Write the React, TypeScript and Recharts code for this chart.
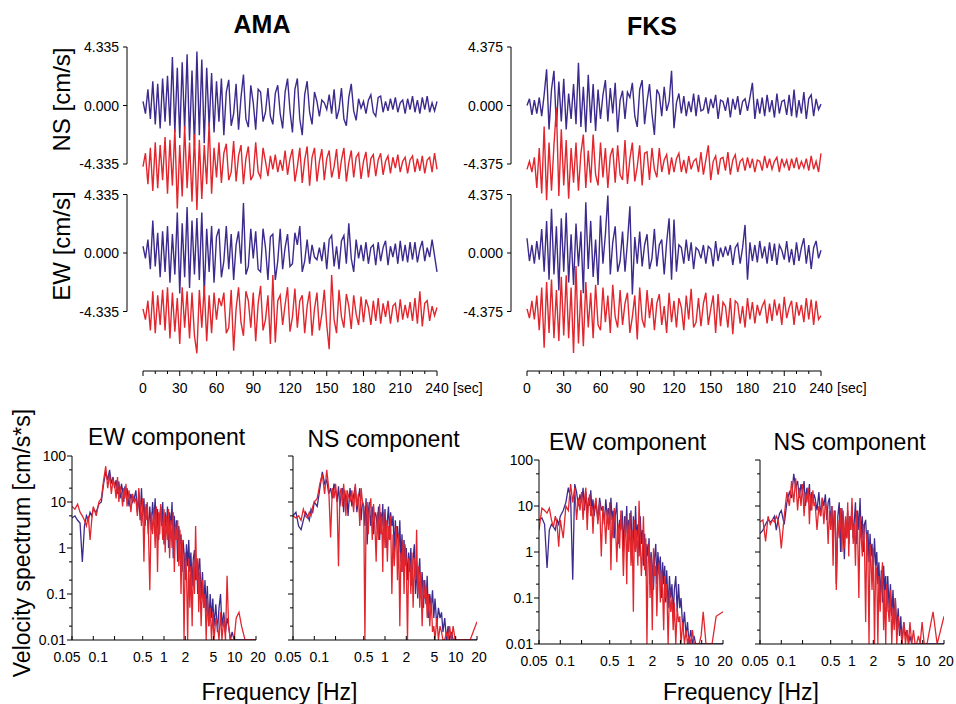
import React from 'react'
import { LineChart, Line, XAxis, YAxis, ReferenceLine } from 'recharts'

const FONT = '"Liberation Sans", Arial, Helvetica, sans-serif'
const BLUE = '#3d2a8d'
const RED = '#e2262e'

// ---- waveforms (cm/s), sampled every 2 s from 0 to 240 s ----
const TIME_STEP = 2
const TIME_TICKS = [0, 10, 20, 30, 40, 50, 60, 70, 80, 90, 100, 110, 120, 130, 140, 150, 160, 170, 180, 190, 200, 210, 220, 230, 240]

const AMA_AMP = 4.335
const FKS_AMP = 4.375

const amaNsBlue = [
  0.3, -0.6, 1.2, -1.0, 1.8, -1.4, 1.6, -1.7, 2.0, -1.2,
  2.2, -1.5, 3.6, -2.0, 2.8, -2.4, 3.2, -1.8, 3.8, -2.6,
  2.6, -3.0, 4.0, -2.2, 3.4, -2.8, 2.8, -1.6, 2.4, -2.0,
  1.8, -1.2, 2.0, -2.2, 1.0, 1.9, -1.5, -0.6, 1.6, -1.8,
  0.6, 2.3, -1.0, -1.6, 1.5, 0.2, -1.8, 1.2, 1.0, -1.2,
  -0.5, 1.3, -0.8, -1.4, 0.9, 1.5, -0.6, -1.7, 1.0, 2.0,
  -0.4, -2.0, 1.2, 2.0, -1.0, -2.2, 0.8, 1.8, -0.5, -1.4,
  1.0, 0.3, -0.8, 0.4, 0.2, -0.3, 0.8, -0.6, 1.2, -1.0,
  -0.3, 1.3, -1.0, -1.5, 0.6, 1.6, -0.4, -1.1, 0.5, -0.2,
  0.3, -0.6, 0.4, 0.8, -0.5, -0.8, 0.6, 0.7, -0.5, 0.3,
  -0.4, 0.5, -0.3, 0.6, -0.5, 0.2, 0.4, -0.6, 0.5, -0.3,
  0.7, -0.5, 0.4, -0.6, 0.6, -0.3, 0.7, -0.5, 0.2, -0.4, 0.3,
]
const amaNsRed = [
  -0.2, 0.8, -1.5, 1.2, -2.0, 1.6, -1.8, 1.4, -1.2, 2.0,
  -2.2, 1.8, -1.6, 2.6, -3.3, 1.4, -2.4, 2.8, -1.8, 1.6,
  -2.8, 2.2, -3.4, 1.8, -2.6, 1.4, -1.5, 3.1, -2.2, 1.2,
  -1.0, 1.6, -1.4, 0.8, 1.5, -1.2, -0.6, 1.7, -1.3, 0.6,
  1.4, -1.5, 0.4, 1.3, -1.2, -0.8, 1.6, -0.6, -1.0, 1.2,
  0.2, -0.9, 0.6, -0.4, 0.7, -0.6, 0.3, -0.5, 1.0, -0.8,
  0.4, 1.1, -1.3, -0.2, 1.2, -1.4, 0.3, 1.3, -1.6, 0.5,
  1.2, -1.3, 0.2, 1.1, -1.2, 0.4, 1.0, -1.0, -0.2, 1.1,
  -1.1, 0.3, 1.2, -1.3, 0.1, 1.0, -1.0, 0.5, 0.8, -1.1,
  0.2, 0.9, -1.0, 0.4, 0.7, -0.9, 0.3, 0.8, -0.8, 0.2,
  0.6, -0.7, 0.5, -0.3, 0.7, -0.6, 0.2, 0.5, -0.7, 0.3,
  0.6, -0.6, 0.4, -0.5, 0.6, -0.7, 0.3, 0.5, -0.6, 0.8, -0.4,
]
const amaEwBlue = [
  0.5, -0.4, 1.0, -1.2, 2.4, -1.0, 1.5, -1.8, 1.6, -1.4,
  2.0, -2.2, 1.4, -1.6, 3.0, -3.0, 2.2, -1.8, 3.4, -2.6,
  2.4, -1.6, 2.6, -2.0, 3.0, -3.1, 1.8, -1.4, 2.0, -2.2,
  1.2, 1.8, -1.8, -0.6, 2.0, -1.2, 1.4, -2.0, 0.6, 1.6,
  -0.8, 3.7, -1.6, -1.0, 1.8, -0.4, 1.6, -1.2, -1.4, 1.8,
  0.4, -2.0, 1.2, 1.4, -2.0, -0.6, 1.8, -1.2, 0.4, 1.4,
  -1.0, -0.8, 1.5, 0.6, 2.0, -1.4, -0.6, 1.0, -0.8, 0.6,
  -0.3, -0.5, 0.4, -0.6, 0.8, -1.2, 1.0, 1.3, -1.0, 0.5,
  -1.2, 0.9, 1.3, -0.8, 2.2, -0.4, -1.4, 1.0, -0.4, 0.6,
  -0.6, 0.8, -0.8, 0.4, 0.6, -0.9, 0.8, -0.6, 0.4, 0.9,
  -0.9, 0.5, -0.3, 0.7, -0.8, 0.9, -0.6, 0.6, -0.7, 0.8,
  -0.5, 0.8, -0.7, 0.3, 0.9, -0.6, 0.4, -0.3, 1.0, -0.2, -1.4,
]
const amaEwRed = [
  0.2, -0.6, 0.8, -1.4, 1.5, -1.6, 1.2, -1.0, 1.6, -1.4,
  1.8, -2.0, 1.4, -1.5, 1.0, -2.4, 1.8, -1.2, 1.5, -2.0,
  1.4, -1.8, -3.1, 1.6, -1.2, 1.9, -2.2, 1.2, -1.6, 1.4,
  -0.6, 1.0, 0.4, 1.4, -1.6, -1.2, 1.6, -2.9, 0.2, 1.8,
  -0.8, -1.8, 1.5, 0.8, -1.2, 1.4, -2.2, 0.6, 1.9, -1.4,
  -0.6, 1.2, -2.4, 2.7, -2.3, 0.8, 1.2, -1.0, 0.5, 1.8,
  -1.5, -0.4, 1.7, -1.2, 0.8, 1.2, -1.6, 0.4, 1.5, -1.8,
  0.2, 1.4, -1.4, -0.2, 1.6, -1.0, -2.8, 2.7, -0.6, -1.6,
  1.6, -0.4, -1.2, 1.3, 0.4, -1.3, 1.2, -0.2, -1.0, 1.1,
  -0.8, 0.9, 0.3, -1.0, 0.8, -0.7, 1.0, -0.9, 0.6, -0.4,
  0.8, -0.9, 0.4, 0.6, -0.8, 0.9, -0.6, 0.5, -0.5, 0.7,
  -0.7, 1.0, -0.9, 1.5, -1.1, 0.6, 0.8, -0.7, 0.4, -0.3, 0.3,
]
const fksNsBlue = [
  0.0, 0.5, -0.7, 0.4, -0.6, 0.6, -0.8, 0.8, 2.7, -1.8,
  1.2, 2.6, -1.6, 1.8, -1.2, 2.0, -1.8, 0.9, -1.0, 1.6,
  -1.4, 3.2, -1.6, 1.4, -2.0, 2.3, -1.3, 1.6, -1.9, 1.2,
  -1.0, 0.8, 1.9, -1.2, 1.3, -0.6, 1.7, -2.0, 0.4, 1.1,
  -1.0, 1.0, 0.6, 1.7, -0.8, -1.6, 1.2, 1.9, -1.4, 0.3,
  1.6, -0.6, -2.2, 1.2, 0.8, -0.8, 1.4, -0.4, 0.3, 2.6,
  -1.7, 0.2, 0.9, -0.6, 0.7, -0.8, 0.3, -0.5, 0.9, -0.8,
  0.8, -0.4, -0.3, 0.6, -0.6, 0.5, -0.2, 0.8, -1.0, 0.4,
  0.3, -0.4, 0.6, -0.9, 0.5, -0.3, 0.7, -0.7, 0.3, 0.5,
  -0.4, 0.6, 1.7, -1.0, 0.5, -0.6, 0.6, -0.8, 0.8, -0.5,
  0.4, -0.9, 0.9, -0.6, 0.3, 0.4, -0.7, 0.8, -0.8, 1.2,
  -0.9, 0.4, -0.6, 1.0, -1.0, 0.5, 0.8, -0.8, 0.5, -0.3, 0.1,
]
const fksNsRed = [
  -0.4, 0.2, -0.6, 0.5, -1.8, 1.2, -2.2, 2.8, -2.7, 1.6,
  -2.0, 1.4, 4.2, -2.4, 2.6, -1.6, 1.8, -2.6, 1.2, -1.4,
  1.6, -2.0, 0.8, 2.2, -1.8, 1.0, -1.4, 2.2, -0.8, -1.6,
  1.6, -1.0, 1.2, -1.8, 0.6, 1.2, -1.4, 1.4, -0.8, -1.2,
  1.8, -1.5, 0.4, 1.6, -1.3, -0.2, 1.4, -1.6, 0.8, 0.9,
  -1.2, 1.2, -0.4, -1.0, 1.2, -0.6, 0.3, 0.7, -0.8, 0.5,
  -0.6, 0.4, 0.8, -0.6, 0.3, -0.7, 0.6, -0.4, 0.2, 0.4,
  -0.6, 0.9, -0.8, 0.3, 1.4, -1.2, 0.2, 0.6, -0.8, 0.4,
  0.5, -0.5, 0.9, -0.8, 0.3, 0.7, -0.6, 0.2, 0.4, -0.5,
  0.5, -0.3, 0.4, -0.6, 0.3, 0.2, -0.5, 0.6, -0.3, 0.4,
  -0.4, 0.2, 0.5, -0.6, 0.4, -0.2, 0.3, -0.5, 0.4, -0.3,
  0.5, -0.4, 0.2, -0.3, 0.4, -0.5, 0.6, -0.4, 0.2, -0.6, 0.8,
]
const fksEwBlue = [
  1.1, -0.6, 0.6, -0.8, 0.9, -0.5, 1.8, -1.4, 2.4, -2.0,
  3.3, -1.6, 2.0, -2.8, 2.6, -1.4, 3.0, -2.2, 1.4, -2.4,
  2.2, -1.0, 1.6, -3.0, 3.8, -1.2, 2.4, -1.8, 1.0, -2.4,
  2.8, -0.8, 1.4, 4.3, -1.6, 0.8, 2.0, -1.4, -0.6, 1.6,
  -1.4, 0.8, 3.5, -3.1, 1.2, -0.8, 1.6, -1.0, 0.6, 1.4,
  -1.2, -0.4, 1.8, -1.0, 0.6, 1.0, -1.6, 0.8, 2.6, -2.0,
  2.5, -1.4, 0.6, 0.4, -0.8, 1.0, -0.6, 0.8, -1.2, 0.4,
  0.2, -0.4, 0.6, -0.8, 0.5, 0.3, -1.0, 0.9, -0.6, 0.4,
  -0.3, 0.5, -0.2, 0.6, -0.9, 0.4, 0.7, -0.8, 0.4, 2.1,
  -2.0, 0.8, -0.6, 0.6, -0.7, 0.9, -0.4, 0.5, -0.8, 0.8,
  -0.6, 0.7, -0.9, 0.6, 0.2, -0.5, 0.9, -0.7, 0.3, -0.9,
  0.8, -0.6, 0.4, 1.1, -0.8, 0.6, -1.2, 0.4, 0.9, -0.4, 0.2,
]
const fksEwRed = [
  0.2, -0.5, 0.8, -0.6, 1.2, -1.4, 1.8, -2.7, 2.2, -1.6,
  2.4, -2.0, 1.6, -2.2, 2.6, -1.8, 2.7, -2.0, 1.8, -3.1,
  3.4, -2.4, 1.6, -2.6, 2.2, -1.2, 1.4, -2.0, 2.0, -1.0,
  -1.4, 1.8, -0.8, 1.2, -1.6, 2.0, -0.4, -1.2, 1.6, -1.0,
  0.6, 1.4, -1.6, -0.4, 1.2, -2.1, 1.8, -0.6, -1.2, 1.6,
  -0.5, 1.0, -1.4, 0.6, 1.3, -1.0, 0.4, -1.6, 1.4, -0.8,
  0.8, -1.2, 1.0, 0.3, -1.4, 1.2, -0.6, 1.7, -1.2, -0.8,
  1.0, -1.1, 0.6, 1.4, -1.0, 0.2, 1.2, -1.6, 1.3, -1.1,
  0.7, 0.4, -1.2, 1.0, -1.7, 0.8, 0.6, -0.9, 0.4, -1.2,
  1.0, -0.6, 0.7, -0.9, 0.5, -0.3, 0.4, 0.8, -0.9, 0.6,
  -0.7, 0.9, -0.3, 0.6, -1.0, 1.1, -0.5, 0.3, 0.8, -1.0,
  0.7, -0.3, 0.5, -0.8, 1.0, -0.6, 0.9, -1.0, 0.8, -0.6, -0.3,
]

// ---- velocity spectra (cm/s*s) ----
const specFreq = [
  0.05, 0.055, 0.06, 0.065, 0.07, 0.075, 0.08, 0.085, 0.09, 0.095,
  0.1, 0.11, 0.12, 0.13, 0.14, 0.15, 0.16, 0.17, 0.18, 0.19,
  0.2, 0.21, 0.22, 0.23, 0.24, 0.25, 0.26, 0.27, 0.28, 0.29,
  0.3, 0.32, 0.34, 0.36, 0.38, 0.4, 0.42, 0.44, 0.46, 0.48,
  0.5, 0.52, 0.54, 0.56, 0.58, 0.6, 0.63, 0.66, 0.69, 0.72,
  0.75, 0.78, 0.81, 0.84, 0.87, 0.9, 0.93, 0.96, 1.0, 1.04,
  1.08, 1.12, 1.16, 1.2, 1.25, 1.3, 1.35, 1.4, 1.45, 1.5,
  1.56, 1.62, 1.68, 1.74, 1.8, 1.86, 1.92, 2.0, 2.08, 2.16,
  2.24, 2.32, 2.4, 2.5, 2.6, 2.7, 2.8, 2.9, 3.0, 3.1,
  3.2, 3.35, 3.5, 3.65, 3.8, 3.95, 4.1, 4.3, 4.5, 4.7,
  4.9, 5.1, 5.4, 5.7, 6.0, 6.3, 6.6, 7.0, 7.4, 7.8,
  8.2, 8.7, 9.2, 9.8, 10.5, 11.5, 12.5, 14, 16, 20,
]
const amaEwSpecBlue = [
  4.5, 5, 4, 3.5, 0.5, 3, 5, 4, 6, 5,
  7, 6, 9, 10, 25, 45, 30, 50, 25, 35,
  20, 30, 15, 28, 12, 25, 18, 10, 22, 14,
  20, 8, 15, 10, 12, 18, 6, 14, 4, 20,
  5, 12, 3, 9, 6, 2, 8, 2.5, 10, 4,
  12, 2, 7, 1.5, 5, 8, 3, 10, 1.2, 6,
  2.5, 8, 1, 6, 3, 10, 0.6, 5, 1.5, 4,
  0.5, 3, 1.2, 2, 0.3, 1.5, 0.8, 0.2, 1.2, 0.4,
  1.5, 0.3, 0.8, 0.15, 0.6, 0.9, 0.2, 0.5, 0.1, 0.4,
  0.6, 0.08, 0.3, 0.05, 0.2, 0.04, 0.15, 0.02, 0.1, 0.03,
  0.08, 0.02, 0.06, 0.015, 0.05, 0.1, 0.02, 0.04, 0.015, 0.03,
  0.02, 0.01, 0.015, 0.01, 0.01, 0.01, 0.01, 0.01, 0.01, 0.01,
]
const amaEwSpecRed = [
  8, 7, 9, 6, 5, 4, 3, 5, 1.5, 4,
  8, 5, 10, 12, 30, 60, 20, 40, 15, 30,
  25, 12, 35, 10, 22, 15, 8, 20, 12, 25,
  8, 18, 6, 15, 10, 12, 5, 20, 9, 3,
  12, 0.5, 8, 4, 10, 3, 0.12, 6, 2, 7,
  1, 8, 0.3, 6, 2, 9, 4, 1.5, 7, 0.8,
  5, 1.5, 7, 0.6, 4, 1, 6, 0.3, 3, 1.5,
  4, 0.4, 2.5, 0.1, 1.5, 0.6, 0.01, 0.8, 0.3, 0.01,
  0.6, 0.05, 0.4, 0.02, 0.5, 0.1, 3, 0.2, 0.6, 0.04,
  0.3, 0.02, 0.2, 0.05, 0.1, 0.01, 0.08, 0.02, 0.05, 0.01,
  0.04, 0.01, 0.03, 0.02, 0.01, 0.04, 0.01, 0.03, 0.01, 0.25,
  0.02, 0.01, 0.01, 0.01, 0.03, 0.04, 0.02, 0.01, 0.01, 0.01,
]
const amaNsSpecBlue = [
  5, 6, 3, 2.5, 4, 6, 5, 4, 7, 6,
  10, 8, 20, 45, 25, 30, 15, 20, 12, 25,
  18, 10, 22, 8, 15, 20, 6, 18, 10, 14,
  5, 20, 8, 14, 22, 6, 12, 20, 4, 10,
  8, 3, 12, 1.2, 6, 10, 3, 8, 2, 6,
  5, 2.5, 8, 1.5, 6, 3, 9, 2, 7, 1,
  4, 8, 2, 6, 3, 5, 0.8, 4, 1.5, 3,
  0.8, 4, 0.5, 2, 0.3, 1.5, 0.4, 1, 0.2, 0.8,
  0.3, 1, 0.15, 0.6, 1.2, 0.1, 0.5, 0.08, 0.3, 0.6,
  0.1, 0.3, 0.05, 0.2, 0.06, 0.25, 0.03, 0.1, 0.05, 0.12,
  0.03, 0.08, 0.02, 0.05, 0.03, 0.04, 0.015, 0.03, 0.01, 0.02,
  0.01, 0.015, 0.01, 0.01, 0.01, 0.01, 0.01, 0.01, 0.01, 0.01,
]
const amaNsSpecRed = [
  5, 4.5, 5, 4, 7, 5, 4.5, 6, 5, 8,
  10, 12, 25, 40, 15, 50, 20, 1.7, 20, 12,
  25, 10, 0.4, 15, 20, 8, 25, 12, 5, 18,
  15, 10, 18, 6, 25, 8, 15, 3, 20, 10,
  8, 0.01, 5, 10, 2, 7, 12, 1.5, 9, 3,
  0.5, 6, 1.5, 9, 2, 5, 0.3, 6, 1, 4,
  0.5, 3, 1.5, 5, 0.1, 2, 0.4, 1.2, 3, 0.2,
  2, 0.02, 0.8, 0.3, 1.5, 0.1, 1.2, 0.5, 0.01, 0.6,
  0.5, 0.1, 0.8, 0.05, 0.6, 0.2, 2.5, 0.1, 0.4, 0.05,
  0.3, 0.02, 0.2, 0.08, 0.15, 0.03, 0.1, 0.02, 0.08, 0.015,
  0.02, 0.01, 0.03, 0.01, 0.02, 0.015, 0.01, 0.01, 0.015, 0.01,
  0.02, 0.01, 0.02, 0.01, 0.01, 0.01, 0.01, 0.01, 0.01, 0.025,
]
const fksEwSpecBlue = [
  5, 5.5, 4, 0.45, 3, 4, 3.5, 3, 5, 4,
  6, 8, 12, 25, 15, 0.25, 30, 20, 10, 18,
  12, 25, 8, 20, 6, 15, 10, 22, 8, 14,
  6, 12, 5, 15, 8, 10, 4, 14, 6, 9,
  4, 15, 5, 8, 2, 6, 12, 1.5, 5, 3,
  8, 1, 6, 2.5, 10, 1.5, 5, 3, 8, 0.6,
  6, 1.2, 10, 2, 4, 0.8, 6, 1.5, 3, 0.5,
  2.5, 0.3, 1.5, 0.8, 2, 0.2, 1, 0.5, 0.15, 0.8,
  1.5, 0.2, 1, 0.4, 0.8, 0.1, 0.6, 0.2, 0.5, 0.08,
  0.4, 0.06, 0.3, 0.1, 0.2, 0.04, 0.15, 0.3, 0.05, 0.2,
  0.06, 0.1, 0.02, 0.05, 0.015, 0.03, 0.01, 0.02, 0.01, 0.015,
  0.01, 0.01, 0.01, 0.01, 0.01, 0.01, 0.01, 0.01, 0.01, 0.01,
]
const fksEwSpecRed = [
  3, 9, 8, 7, 9, 5, 3.5, 6, 4, 1.3,
  5, 2, 10, 8, 30, 12, 25, 5, 15, 8,
  20, 5, 14, 25, 3, 12, 18, 6, 10, 2.5,
  8, 15, 4, 12, 0.8, 10, 6, 1.5, 8, 3,
  12, 0.4, 6, 2, 9, 5, 0.6, 4, 1.2, 8,
  3, 0.3, 2, 6, 0.2, 4, 1, 7, 0.5, 3,
  0.05, 5, 1, 3, 0.5, 13, 2, 0.3, 1, 6,
  0.4, 2, 0.01, 0.6, 1.5, 0.1, 0.8, 0.02, 1.2, 0.3,
  0.5, 0.04, 0.3, 0.6, 0.08, 0.4, 0.15, 0.02, 0.3, 0.1,
  0.2, 0.01, 0.15, 0.05, 0.1, 0.02, 0.08, 0.01, 0.06, 0.03,
  0.04, 0.01, 0.03, 0.01, 0.02, 0.01, 0.015, 0.01, 0.02, 0.01,
  0.01, 0.01, 0.01, 0.015, 0.05, 0.01, 0.01, 0.01, 0.04, 0.05,
]
const fksNsSpecBlue = [
  2.5, 3, 4, 5, 4.5, 5, 6, 3, 5, 7,
  8, 4, 12, 20, 15, 50, 25, 35, 15, 30,
  20, 35, 10, 25, 15, 30, 8, 20, 12, 18,
  15, 8, 20, 6, 15, 10, 18, 5, 12, 15,
  4, 10, 2, 8, 5, 0.2, 6, 12, 1, 9,
  3, 0.7, 5, 2, 8, 1.5, 6, 3, 10, 2,
  5, 12, 1.5, 8, 3, 15, 2, 6, 1, 4,
  5, 1.5, 3, 0.6, 2.5, 0.8, 1.5, 0.4, 2, 0.5,
  1, 0.2, 0.6, 0.1, 0.4, 0.08, 0.5, 0.15, 0.3, 0.05,
  0.3, 0.06, 0.2, 0.04, 0.15, 0.03, 0.1, 0.02, 0.06, 0.015,
  0.04, 0.01, 0.03, 0.015, 0.02, 0.01, 0.015, 0.01, 0.01, 0.01,
  0.01, 0.01, 0.01, 0.01, 0.01, 0.01, 0.01, 0.01, 0.01, 0.01,
]
const fksNsSpecRed = [
  4.5, 5, 1.7, 6, 4, 5, 4.5, 6, 5, 3,
  1.2, 6, 20, 10, 35, 12, 40, 8, 25, 10,
  30, 6, 20, 12, 25, 4, 18, 8, 22, 10,
  12, 3, 10, 6, 15, 4, 12, 8, 1.5, 8,
  3, 10, 0.5, 6, 8, 0.15, 5, 2, 9, 1,
  8, 1.2, 6, 2, 12, 0.8, 6, 3, 15, 1.5,
  4, 0.5, 8, 3, 0.1, 6, 2, 0.8, 4, 1.5,
  0.03, 2.5, 0.8, 0.01, 1.5, 0.6, 0.15, 1.2, 0.01, 0.5,
  0.4, 0.01, 0.3, 0.05, 0.25, 0.6, 0.02, 0.15, 0.01, 0.2,
  0.08, 0.03, 0.15, 0.01, 0.06, 0.02, 0.1, 0.01, 0.04, 0.02,
  0.02, 0.01, 0.03, 0.01, 0.02, 0.01, 0.03, 0.01, 0.02, 0.01,
  0.01, 0.015, 0.01, 0.03, 0.01, 0.01, 0.02, 0.05, 0.01, 0.04,
]

const FREQ_TICKS = [0.05, 0.1, 0.2, 0.5, 1, 2, 5, 10, 20]
const FREQ_LABELS = ['0.05', '0.1', '', '0.5', '1', '2', '5', '10', '20']
const SPEC_TICKS = [0.01, 0.02, 0.05, 0.1, 0.2, 0.5, 1, 2, 5, 10, 20, 50, 100]
const SPEC_LABELS: Record<string, string> = { '0.01': '0.01', '0.1': '0.1', '1': '1', '10': '10', '100': '100' }

// pixel layout of one waveform panel
const HALF_PX = 58.5 // zero to +amp
const EW_GAP_PX = 147.5 // NS zero to EW zero
const PLOT_TOP_PX = 65.5 // NS zero to plot top
const PLOT_BOTTOM_PX = 265.5 // NS zero to time axis

function WavePanel({ left, amp, nsBlue, nsRed, ewBlue, ewRed }: {
  left: number; amp: number; nsBlue: number[]; nsRed: number[]; ewBlue: number[]; ewRed: number[]
}) {
  const ppu = HALF_PX / amp
  const ewShift = EW_GAP_PX / ppu
  const rows = nsBlue.map((v, i) => ({
    t: i * TIME_STEP,
    nsB: v,
    nsR: nsRed[i] - amp,
    ewB: ewBlue[i] - ewShift,
    ewR: ewRed[i] - ewShift - amp,
  }))
  const yMax = PLOT_TOP_PX / ppu
  const yMin = -PLOT_BOTTOM_PX / ppu
  const lab = amp.toFixed(3)
  const yTicks = [amp, 0, -amp, amp - ewShift, -ewShift, -amp - ewShift]
  const yLabels = [lab, '0.000', '-' + lab, lab, '0.000', '-' + lab]

  const YTick = (p: any) => {
    const idx = yTicks.findIndex(v => Math.abs(v - p.payload.value) < 1e-6)
    return (
      <g>
        <line x1={p.x - 4} x2={p.x} y1={p.y} y2={p.y} stroke="#000" />
        {idx % 3 === 0 && <line x1={p.x} x2={p.x} y1={p.y} y2={p.y + 2 * HALF_PX} stroke="#000" />}
        <text x={p.x - 8} y={p.y + 5} textAnchor="end" fontSize={14} fontFamily={FONT} fill="#000">{yLabels[idx]}</text>
      </g>
    )
  }
  const XTick = (p: any) => {
    const v = p.payload.value
    const major = v % 30 === 0
    return (
      <g>
        <line x1={p.x} x2={p.x} y1={p.y} y2={p.y + (major ? 5 : 3)} stroke="#000" />
        {major && <text x={p.x} y={p.y + 22} textAnchor="middle" fontSize={14} fontFamily={FONT} fill="#000">{v}</text>}
        {v === 240 && <text x={p.x + 16} y={p.y + 22} fontSize={14} fontFamily={FONT} fill="#000">[sec]</text>}
      </g>
    )
  }

  return (
    <div style={{ position: 'absolute', left, top: 0 }}>
      <LineChart width={457} height={401} data={rows} margin={{ top: 40, right: 60, bottom: 0, left: 0 }}>
        <XAxis dataKey="t" type="number" domain={[0, 240]} ticks={TIME_TICKS} interval={0}
          padding={{ left: 16, right: 0 }} axisLine={false} tickLine={false} tickSize={0} tickMargin={0}
          height={30} tick={XTick} />
        <YAxis type="number" domain={[yMin, yMax]} allowDataOverflow ticks={yTicks} interval={0}
          axisLine={false} tickLine={false} tickSize={0} tickMargin={0} width={87} tick={YTick} />
        <ReferenceLine segment={[{ x: 0, y: yMin }, { x: 240, y: yMin }]} stroke="#000" />
        <Line dataKey="nsB" stroke={BLUE} strokeWidth={1.4} dot={false} isAnimationActive={false} />
        <Line dataKey="nsR" stroke={RED} strokeWidth={1.4} dot={false} isAnimationActive={false} />
        <Line dataKey="ewB" stroke={BLUE} strokeWidth={1.4} dot={false} isAnimationActive={false} />
        <Line dataKey="ewR" stroke={RED} strokeWidth={1.4} dot={false} isAnimationActive={false} />
      </LineChart>
    </div>
  )
}

const SpecXTick = (p: any) => {
  const v = p.payload.value
  const i = FREQ_TICKS.indexOf(v)
  const dx = v === 0.05 ? -5 : v === 0.1 ? 5 : v === 20 ? 2 : 0
  return (
    <g>
      <line x1={p.x} x2={p.x} y1={p.y} y2={p.y - 4} stroke="#000" />
      <text x={p.x + dx} y={p.y + 21.5} textAnchor="middle" fontSize={14} fontFamily={FONT} fill="#000">{FREQ_LABELS[i]}</text>
    </g>
  )
}

function SpectrumPanel({ left, top, blue, red, labels }: {
  left: number; top: number; blue: number[]; red: number[]; labels: boolean
}) {
  const rows = specFreq.map((f, i) => ({ f, b: blue[i], r: red[i] }))
  const YTick = (p: any) => {
    const lab = SPEC_LABELS[String(p.payload.value)]
    return (
      <g>
        <line x1={p.x - (lab ? 5 : 3)} x2={p.x} y1={p.y} y2={p.y} stroke="#000" />
        {labels && lab && <text x={p.x - 6} y={p.y + 5} textAnchor="end" fontSize={14} fontFamily={FONT} fill="#000">{lab}</text>}
      </g>
    )
  }
  return (
    <div style={{ position: 'absolute', left, top }}>
      <LineChart width={244} height={224} data={rows} margin={{ top: 10, right: 10, bottom: 0, left: 0 }}>
        <XAxis dataKey="f" type="number" scale="log" domain={[0.05, 20]} allowDataOverflow ticks={FREQ_TICKS}
          interval={0} axisLine={{ stroke: '#000' }} tickLine={false} tickSize={0} tickMargin={0} height={30} tick={SpecXTick} />
        <YAxis type="number" scale="log" domain={[0.01, 100]} allowDataOverflow ticks={SPEC_TICKS}
          interval={0} axisLine={{ stroke: '#000' }} tickLine={false} tickSize={0} tickMargin={0} width={50} tick={YTick} />
        <Line dataKey="b" stroke={BLUE} strokeWidth={1.3} dot={false} isAnimationActive={false} />
        <Line dataKey="r" stroke={RED} strokeWidth={1.3} dot={false} isAnimationActive={false} />
      </LineChart>
    </div>
  )
}

export default function App() {
  return (
    <div style={{ position: 'absolute', left: 0, top: 0, width: 956, height: 704, background: '#fff', fontFamily: FONT }}>
      <WavePanel left={40} amp={AMA_AMP} nsBlue={amaNsBlue} nsRed={amaNsRed} ewBlue={amaEwBlue} ewRed={amaEwRed} />
      <WavePanel left={424} amp={FKS_AMP} nsBlue={fksNsBlue} nsRed={fksNsRed} ewBlue={fksEwBlue} ewRed={fksEwRed} />
      <SpectrumPanel left={22} top={446} blue={amaEwSpecBlue} red={amaEwSpecRed} labels />
      <SpectrumPanel left={243} top={446} blue={amaNsSpecBlue} red={amaNsSpecRed} labels={false} />
      <SpectrumPanel left={489} top={450} blue={fksEwSpecBlue} red={fksEwSpecRed} labels />
      <SpectrumPanel left={710} top={450} blue={fksNsSpecBlue} red={fksNsSpecRed} labels={false} />
      <svg width={956} height={704} style={{ position: 'absolute', left: 0, top: 0, pointerEvents: 'none' }}>
        <g fontFamily={FONT} fill="#000">
          <text x={262} y={33} textAnchor="middle" fontSize={25} fontWeight="bold">AMA</text>
          <text x={652} y={35} textAnchor="middle" fontSize={25} fontWeight="bold">FKS</text>
          <text transform="translate(70,99.5) rotate(-90)" textAnchor="middle" fontSize={24}>NS [cm/s]</text>
          <text transform="translate(70,246) rotate(-90)" textAnchor="middle" fontSize={24}>EW [cm/s]</text>
          <text transform="translate(30,543) rotate(-90)" textAnchor="middle" fontSize={23}>Velocity spectrum [cm/s*s]</text>
          <text x={166.5} y={445} textAnchor="middle" fontSize={23}>EW component</text>
          <text x={383.5} y={447} textAnchor="middle" fontSize={23}>NS component</text>
          <text x={627.5} y={450} textAnchor="middle" fontSize={23}>EW component</text>
          <text x={849.5} y={450} textAnchor="middle" fontSize={23}>NS component</text>
          <text x={279.5} y={700} textAnchor="middle" fontSize={23}>Frequency [Hz]</text>
          <text x={741} y={700} textAnchor="middle" fontSize={23}>Frequency [Hz]</text>
        </g>
      </svg>
    </div>
  )
}
